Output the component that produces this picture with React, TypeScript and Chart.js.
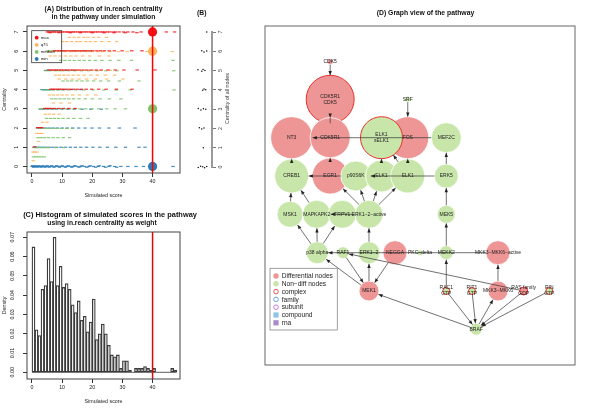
import React, { useEffect, useRef } from 'react';
import { Chart, registerables } from 'chart.js';

Chart.register(...registerables);

const FONT_FAMILY = '"Liberation Sans", Arial, Helvetica, sans-serif';

// ---------------- Panel A data ----------------
const statNames = ['max', 'q75', 'median', 'min'];
const statColors = ['#F0141A', '#FDB45C', '#7CC46A', '#2C7BB6'];
const observedScore = 40;
const observedStatLevels = [7, 6, 3, 0];
const centralityTicks = [0, 1, 2, 3, 4, 5, 6, 7];
const scoreTicks = [0, 10, 20, 30, 40];

const scoreRowLevels = [
  7.0, 6.96, 6.72, 6.5, 6.02, 5.98, 6.0, 6.0, 5.75, 5.52,
  5.0, 5.02, 4.98, 5.0, 4.75, 4.55, 4.45, 4.02, 4.0, 3.98,
  3.72, 3.52, 3.3, 3.0, 3.02, 2.98, 2.72, 2.5, 2.3, 2.0,
  2.02, 1.98, 1.72, 1.5, 1.3, 1.0, 0.98, 1.02, 0.75, 0.5,
  0.3, 0.0, 0.04, -0.04,
];
const scoreRowStats = [
  0, 0, 1, 1, 0, 1, 2, 3, 1, 2,
  3, 0, 2, 1, 1, 1, 2, 0, 3, 2,
  1, 2, 1, 2, 0, 3, 1, 2, 1, 3,
  0, 2, 1, 2, 1, 3, 2, 0, 1, 2,
  1, 3, 3, 3,
];
const scoreRowValues: number[][] = [
  [5.1, 5.6, 6.3, 7.0, 7.4, 8.2, 8.8, 9.5, 10.1, 10.9, 11.6, 12.2, 13.0, 13.7, 14.3, 15.2, 15.9, 16.5, 17.4, 18.0, 18.9, 19.6, 20.3, 21.1, 21.8, 22.6, 23.4, 24.1, 25.0, 25.8, 26.9, 27.7, 28.9, 30.4, 31.8, 33.5, 36.2, 39.0, 44.6, 47.3],
  [6.0, 9.0, 12.7, 16.1, 20.0, 23.9, 27.2, 30.9, 34.8],
  [12.4, 13.9, 15.5, 17.2, 18.6, 20.4, 22.1, 24.7],
  [10.2, 11.5, 13.1, 14.8, 16.0, 17.9, 19.3, 21.0, 23.2, 25.6, 28.1],
  [7.5, 8.3, 9.0, 9.9, 10.6, 11.4, 12.3, 13.1, 14.0, 14.7, 15.8, 16.6, 17.5, 18.3, 19.4, 20.2, 21.5, 22.7, 24.0, 25.6, 27.3, 29.9, 33.1, 36.5],
  [5.4, 6.2, 8.8, 11.0, 12.7, 14.4, 16.2, 18.0, 19.9, 21.8, 23.5, 25.9, 28.7, 31.6, 38.2, 46.5],
  [5.0, 5.8, 6.6, 7.2, 9.4, 10.8, 13.5, 15.3, 17.1, 19.0],
  [5.3, 6.9],
  [6.1, 7.6, 9.3, 11.1, 12.9, 14.6, 16.8, 19.2, 22.4, 25.5],
  [9.5, 10.9, 12.4, 14.0, 15.7, 17.3, 19.1, 21.0, 23.2, 25.9, 28.8, 33.0, 46.8],
  [4.5, 5.2, 5.9, 6.8, 8.0, 9.6, 11.5, 13.9],
  [5.5, 6.4, 7.3, 8.1, 8.9, 9.8, 10.7, 11.6, 12.6, 13.5, 14.6, 15.7, 16.9, 18.2, 19.6, 21.3, 23.0, 25.2, 27.6, 30.5, 34.9, 40.8],
  [4.8, 6.0, 7.7, 9.2, 10.4, 12.1, 14.2, 16.4, 18.8, 21.6, 24.5, 28.2, 47.0],
  [7.0, 10.0, 13.0, 15.2, 17.6, 20.1, 22.5, 26.0],
  [7.8, 9.1, 10.6, 12.0, 13.7, 15.4, 17.3, 19.5, 21.7, 24.3, 27.4],
  [9.0, 11.2, 13.4, 15.6, 18.1, 21.0, 24.8, 30.2],
  [10.3, 11.8, 13.2, 14.9, 16.6, 18.4, 20.5, 22.8, 25.4, 29.0, 35.5],
  [6.2, 6.9, 7.6, 8.4, 9.1, 9.9, 10.8, 11.7, 12.8, 13.9, 15.1, 16.4, 18.0, 19.8, 22.1, 24.6, 28.0, 33.2],
  [3.3, 4.0, 4.6, 5.3, 6.0, 7.2, 8.8, 10.5, 13.0, 16.2],
  [3.8, 4.9, 5.7, 7.0, 8.6, 10.2, 12.0, 14.5, 17.2, 20.3, 23.8, 27.9, 32.6, 47.1],
  [5.8, 7.1, 8.5, 10.0, 11.6, 13.5, 15.7, 18.3, 21.2],
  [6.6, 7.9, 9.3, 10.7, 12.2, 13.8, 15.6, 17.7, 20.0, 22.6, 25.7, 29.5],
  [7.1, 9.6, 12.4],
  [2.6, 3.3, 4.1, 5.0, 6.0, 7.1, 8.3, 9.6, 11.0, 12.5, 14.1, 15.9, 17.8, 19.9, 22.2, 24.8, 27.6, 31.0],
  [4.2, 4.9, 5.6, 6.4, 7.5, 8.9, 10.4, 12.2, 14.3],
  [2.9, 3.8, 5.2, 6.7, 8.1, 9.9, 11.9, 14.0, 16.6, 19.5, 23.0],
  [4.5, 5.8, 7.2, 9.0],
  [4.8, 6.1, 7.4, 8.8, 10.3, 12.0, 13.9, 16.1, 18.6],
  [3.5, 5.0],
  [1.8, 2.5, 3.4, 4.5, 5.7, 7.0, 8.4, 10.0, 11.7, 13.5, 15.5, 17.6, 19.9, 22.4, 25.5, 29.0, 34.2],
  [1.9, 2.6, 3.2],
  [2.3, 3.7, 5.1, 6.5, 8.0, 9.7, 11.5, 13.4],
  [1.6, 2.4, 3.3],
  [2.0, 3.0, 4.2, 5.5, 7.0, 8.6, 10.4, 12.5],
  [2.2],
  [0.6, 1.2, 1.9, 2.7, 3.6, 4.6, 5.7, 6.9, 8.2, 9.6, 11.1, 12.7, 14.4, 16.2, 18.1, 20.2, 22.5, 25.0, 27.8, 31.0, 35.5, 37.5],
  [0.8, 1.5, 2.3, 3.2, 4.3, 5.5, 7.8, 10.4],
  [0.9],
  [0.3, 1.0, 1.7],
  [0.5, 1.3, 2.2, 3.1, 4.1],
  [0.4],
  [0.0, 0.4, 0.9, 1.4, 2.0, 2.6, 3.2, 3.9, 4.6, 5.3, 6.1, 6.9, 7.8, 8.7, 9.6, 10.6, 11.6, 12.7, 13.8, 15.0, 16.2, 17.5, 18.9, 20.4, 22.0, 23.7, 25.5, 27.4, 29.5, 31.8, 34.5, 37.0, 39.0, 46.8],
  [0.2, 1.1, 2.3, 3.6, 5.0, 6.5, 8.2, 10.0, 12.0, 14.2, 16.6, 19.3, 22.3, 25.9],
  [0.6, 1.7, 3.0, 4.3, 5.7, 7.3, 9.1, 11.1, 13.2, 15.6, 18.2, 21.1, 24.4, 28.1],
];

// ---------------- Panel B data ----------------
const nodeCentralities = [7, 6, 6, 6, 5, 5, 5, 5, 4, 4, 4, 3, 3, 3, 3, 2, 2, 2, 1, 0, 0, 0, 0, 0];
const nodeJitterX = [0.67, 0.36, 0.5, 0.67, 0.12, 0.36, 0.44, 0.56, 0.42, 0.5, 0.61, 0.14, 0.31, 0.46, 0.61, 0.21, 0.36, 0.5, 0.46, 0.14, 0.29, 0.42, 0.54, 0.67];
const nodeJitterY = [0, 0.03, -0.04, 0.02, 0.04, -0.03, 0.05, 0.0, -0.02, 0.04, 0.01, 0.03, -0.05, 0.02, -0.01, 0.04, -0.03, 0.02, 0.0, -0.03, 0.04, 0.01, -0.04, 0.02];

// ---------------- Panel C data ----------------
const histBinStart = 0;
const histBinWidth = 1;
const histDensity = [
  0.065, 0.022, 0.019, 0.043, 0.045, 0.059, 0.047, 0.070, 0.045, 0.055,
  0.044, 0.046, 0.043, 0.035, 0.031, 0.037, 0.027, 0.029, 0.021, 0.026,
  0.038, 0.017, 0.020, 0.025, 0.020, 0.014, 0.009, 0.008, 0.009, 0.002,
  0.006, 0.006, 0.001, 0.0, 0.002, 0.002, 0.002, 0.003, 0.002, 0.001,
  0.002, 0.0, 0.0, 0.0, 0.0, 0.0, 0.002, 0.001,
];
const densityTicks = [0, 0.01, 0.02, 0.03, 0.04, 0.05, 0.06, 0.07];

// ---------------- Panel D data ----------------
const pathwayNodes = [
  'CDK5', 'CDK5R1\nCDK5', 'SRF', 'NT3', 'FOS', 'CDK5R1', 'ELK1\nsELK1', 'MEF2C',
  'CREB1', 'EGR1', 'p90S6K', 'ELK1', 'ELK1', 'ERK5',
  'MSK1', 'MAPKAPK2', 'TRPV1', 'ERK1\u22122\u2212active', 'MEK5',
  'p38 alpha', 'RAF1', 'ERK1\u22122', 'NEGGA', 'PKC\u2212delta', 'MEKK2', 'MKK3\u2212MKK6\u2212active',
  'MEK1', 'RAC1\nGTP', 'RIT1\nGTP', 'MKK3\u2212MKK6', 'RAS family\nGDP', 'RIN\nGTP', 'BRAF',
];
const nodeX = [67.7, 67.7, 148.3, 27.7, 148.3, 67.7, 121, 188.3, 27.7, 67.7, 94.3, 121, 148.3, 188.3, 26, 53.7, 80.3, 108, 188.3, 54.3, 81, 108, 135, 161, 188.3, 242, 108, 188.3, 215, 242, 268.7, 295.3, 219.3];
const nodeY = [35.7, 73.3, 73.3, 111.7, 111.7, 111.7, 111.7, 111.7, 150, 150, 150, 150, 150, 150, 188.3, 188.3, 188.3, 188.3, 188.3, 226.7, 226.7, 226.7, 226.7, 226.7, 226.7, 226.7, 265, 265, 265, 265, 265, 265, 303.3];
const nodeSize = [3, 24, 3, 21, 21, 20, 21, 15, 17, 18, 15, 16, 17, 12, 13, 14, 14, 14, 9, 11, 6, 11, 12, 3, 7, 12, 10, 3.5, 3.5, 10, 4, 3.5, 6];
const nodeIsDiff = [1, 1, 0, 1, 1, 1, 0, 0, 0, 1, 0, 0, 0, 0, 0, 0, 0, 0, 0, 0, 0, 0, 1, 0, 0, 1, 1, 0, 0, 1, 1, 0, 0];
const nodeIsComplex = [0, 1, 0, 0, 0, 0, 1, 0, 0, 0, 0, 0, 0, 0, 0, 0, 0, 0, 0, 0, 0, 0, 0, 0, 0, 0, 0, 1, 1, 0, 1, 1, 0];
const edgeFrom = [0, 1, 2, 7, 8, 9, 11, 12, 12, 13, 10, 14, 15, 17, 17, 17, 17, 17, 19, 19, 19, 21, 25, 30, 26, 20, 26, 22, 32, 27, 24, 18, 13, 29, 27, 28, 32, 30, 31];
const edgeTo =   [1, 5, 4, 3, 3, 5, 6, 4, 6, 10, 8, 8, 8, 10, 9, 11, 12, 15, 14, 15, 16, 17, 19, 20, 19, 26, 21, 26, 26, 24, 18, 13, 7, 25, 32, 32, 29, 32, 32];
const legendLabels = ['Differential nodes', 'Non\u2212diff nodes', 'complex', 'family', 'subunit', 'compound', 'rna'];

// ---------------- helpers ----------------
const DIFF_FILL = '#EE9595';
const NONDIFF_FILL = '#C8E6A9';
const COMPLEX_BORDER = '#E8322C';

function txt(ctx: CanvasRenderingContext2D, s: string, x: number, y: number, size: number, o: any = {}) {
  ctx.save();
  ctx.font = `${o.bold ? 'bold ' : ''}${size}px ${FONT_FAMILY}`;
  ctx.fillStyle = o.color || '#111';
  ctx.textAlign = o.align || 'center';
  ctx.textBaseline = 'middle';
  ctx.translate(x, y);
  if (o.rotate) ctx.rotate(o.rotate);
  ctx.fillText(s, 0, 0);
  ctx.restore();
}

const scaleFont = { family: FONT_FAMILY, size: 5.3 };

function rAxis(kind: 'x' | 'y', min: number, max: number, tickVals: number[], fit: number, title: string, extra: any = {}) {
  return {
    type: 'linear',
    min,
    max,
    offset: false,
    afterBuildTicks: (s: any) => { s.ticks = tickVals.map((v) => ({ value: v })); },
    afterFit: (s: any) => { if (kind === 'x') s.height = fit; else s.width = fit; },
    ticks: {
      font: scaleFont, color: '#222', autoSkip: false,
      padding: kind === 'x' ? 1.5 : 5,
      ...(kind === 'y' ? { minRotation: 90, maxRotation: 90, crossAlign: 'center' } : { maxRotation: 0 }),
      ...(extra.ticks || {}),
    },
    grid: { drawOnChartArea: false, tickLength: 4, color: '#333', offset: false },
    border: { display: false },
    title: {
      display: true, text: title, font: scaleFont, color: '#222',
      padding: kind === 'x' ? { top: 0, bottom: 6.5 } : { top: 1, bottom: 0 },
    },
  };
}

function ChartCanvas({ left, top, width, height, build }: any) {
  const ref = useRef<HTMLCanvasElement>(null);
  useEffect(() => {
    const chart = new Chart(ref.current as HTMLCanvasElement, build());
    return () => chart.destroy();
  }, []);
  return (
    <canvas ref={ref} width={width} height={height}
      style={{ position: 'absolute', left, top, width, height }} />
  );
}

// ---------------- Panel A ----------------
function buildA(): any {
  const small = statNames.map((name, s) => {
    const pts: any[] = [];
    scoreRowValues.forEach((vals, r) => {
      if (scoreRowStats[r] === s) vals.forEach((v) => pts.push({ x: v, y: scoreRowLevels[r] }));
    });
    return {
      label: name, data: pts, pointStyle: 'line', pointRadius: 1.7,
      pointBorderColor: statColors[s] + 'DD', pointBorderWidth: 1.2,
      pointBackgroundColor: statColors[s], clip: 4,
    };
  });
  const big = {
    label: 'observed', data: observedStatLevels.map((y) => ({ x: observedScore, y })),
    pointRadius: 4.6, pointBackgroundColor: statColors, pointBorderWidth: 0, pointStyle: 'circle', clip: 8,
  };
  const plugin = {
    id: 'panelA',
    afterDatasetsDraw(chart: any) {
      const { ctx, chartArea: a, scales } = chart;
      const px = scales.x.getPixelForValue(observedScore);
      ctx.save();
      ctx.strokeStyle = '#FF0000'; ctx.lineWidth = 1.5;
      ctx.beginPath(); ctx.moveTo(px, a.top); ctx.lineTo(px, a.bottom); ctx.stroke();
      ctx.strokeStyle = '#444'; ctx.lineWidth = 1;
      ctx.strokeRect(a.left, a.top, a.right - a.left, a.bottom - a.top);
      // legend
      ctx.strokeStyle = '#333'; ctx.lineWidth = 0.8;
      ctx.strokeRect(a.left + 4.7, a.top + 4.7, 30, 32);
      statNames.forEach((n, i) => {
        const y = a.top + 11.7 + i * 7.1;
        ctx.fillStyle = statColors[i];
        ctx.beginPath(); ctx.arc(a.left + 9.7, y, 1.9, 0, Math.PI * 2); ctx.fill();
        txt(ctx, n, a.left + 13.7, y, 4.3, { align: 'left', color: '#222' });
      });
      ctx.restore();
      const cx = (a.left + a.right) / 2;
      txt(ctx, '(A) Distribution of in.reach centrality', cx, 9, 6.8, { bold: true });
      txt(ctx, 'in the pathway under simulation', cx, 16.7, 6.8, { bold: true });
    },
  };
  return {
    type: 'scatter',
    data: { datasets: [big, ...small] },
    options: {
      responsive: false, animation: false, events: [],
      layout: { padding: { left: 0, top: 26, right: 20, bottom: 0 } },
      plugins: { legend: { display: false }, tooltip: { enabled: false } },
      scales: {
        x: rAxis('x', -1.65, 49.1, scoreTicks, 32, 'Simulated score'),
        y: rAxis('y', -0.34, 7.31, centralityTicks, 27, 'Centrality'),
      },
    },
    plugins: [plugin],
  };
}

// ---------------- Panel B ----------------
function buildB(): any {
  const plugin = {
    id: 'panelB',
    afterDraw(chart: any) {
      const { ctx, chartArea: a } = chart;
      txt(ctx, '(B)', 11.7, 13.3, 6.8, { bold: true });
      txt(ctx, 'Centrality of all nodes', 38, (a.top + a.bottom) / 2 - 1, 5.3, { rotate: -Math.PI / 2, color: '#333' });
    },
  };
  return {
    type: 'scatter',
    data: {
      datasets: [{
        label: 'nodes',
        data: nodeCentralities.map((c, i) => ({ x: nodeJitterX[i], y: c + nodeJitterY[i] })),
        pointRadius: 0.75, pointBackgroundColor: '#111', pointBorderWidth: 0, clip: false,
      }],
    },
    options: {
      responsive: false, animation: false, events: [],
      layout: { padding: { left: 6, top: 32, right: 0, bottom: 38 } },
      plugins: { legend: { display: false }, tooltip: { enabled: false } },
      scales: {
        x: { type: 'linear', min: 0, max: 1, display: false },
        y: {
          type: 'linear', position: 'right', min: 0, max: 7,
          afterBuildTicks: (s: any) => { s.ticks = centralityTicks.map((v) => ({ value: v })); },
          afterFit: (s: any) => { s.width = 28; },
          ticks: { font: scaleFont, color: '#444', padding: 3, autoSkip: false, minRotation: 90, maxRotation: 90, crossAlign: 'center' },
          grid: { drawOnChartArea: false, tickLength: 4, color: '#777' },
          border: { display: true, color: '#9A9A9A', width: 2 },
        },
      },
    },
    plugins: [plugin],
  };
}

// ---------------- Panel C ----------------
function buildC(): any {
  const plugin = {
    id: 'panelC',
    afterDatasetsDraw(chart: any) {
      const { ctx, chartArea: a, scales } = chart;
      const px = scales.x.getPixelForValue(observedScore);
      ctx.save();
      ctx.strokeStyle = '#E8000B'; ctx.lineWidth = 1.5;
      ctx.beginPath(); ctx.moveTo(px, a.top); ctx.lineTo(px, a.bottom); ctx.stroke();
      ctx.strokeStyle = '#444'; ctx.lineWidth = 1;
      ctx.strokeRect(a.left, a.top, a.right - a.left, a.bottom - a.top);
      ctx.restore();
      txt(ctx, '(C) Histogram of simulated scores in the pathway', 110, 10, 7.4, { bold: true });
      txt(ctx, 'using in.reach centrality as weight', 102, 17.7, 6.7, { bold: true });
    },
  };
  const nBins = histDensity.length;
  return {
    type: 'bar',
    data: {
      datasets: [
        {
          type: 'line', label: 'base',
          data: [{ x: histBinStart, y: 0 }, { x: histBinStart + nBins * histBinWidth, y: 0 }],
          borderColor: '#333', borderWidth: 0.8, pointRadius: 0,
        },
        {
          type: 'bar', label: 'density',
          data: histDensity.map((d, i) => ({ x: histBinStart + (i + 0.5) * histBinWidth, y: d })),
          backgroundColor: 'rgba(255,255,255,0)', borderColor: '#3A3A3A', borderWidth: 0.6,
          borderSkipped: false, barPercentage: 1, categoryPercentage: 1,
        },
      ],
    },
    options: {
      responsive: false, animation: false, events: [],
      layout: { padding: { left: 0, top: 27, right: 20, bottom: 0 } },
      plugins: { legend: { display: false }, tooltip: { enabled: false } },
      scales: {
        x: rAxis('x', -1.65, 49.1, scoreTicks, 32, 'Simulated score'),
        y: rAxis('y', -0.00347, 0.07275, densityTicks, 27, 'Density', {
          ticks: { callback: (v: any) => Number(v).toFixed(2) },
        }),
      },
    },
    plugins: [plugin],
  };
}

// ---------------- Panel D ----------------
function buildD(): any {
  const plugin = {
    id: 'panelD',
    afterDatasetsDraw(chart: any) {
      const { ctx, chartArea: a, scales } = chart;
      const P = (i: number) => ({ x: scales.x.getPixelForValue(nodeX[i]), y: scales.y.getPixelForValue(nodeY[i]) });
      ctx.save();
      // edges
      ctx.strokeStyle = '#333'; ctx.fillStyle = '#222'; ctx.lineWidth = 0.7;
      edgeFrom.forEach((f, k) => {
        const t = edgeTo[k];
        const p1 = P(f), p2 = P(t);
        const dx = p2.x - p1.x, dy = p2.y - p1.y;
        const len = Math.hypot(dx, dy) || 1;
        const ux = dx / len, uy = dy / len;
        const sx = p1.x + ux * nodeSize[f], sy = p1.y + uy * nodeSize[f];
        const ex = p2.x - ux * nodeSize[t], ey = p2.y - uy * nodeSize[t];
        ctx.beginPath(); ctx.moveTo(sx, sy); ctx.lineTo(ex, ey); ctx.stroke();
        const L = 4.2, W = 1.7;
        ctx.beginPath();
        ctx.moveTo(ex, ey);
        ctx.lineTo(ex - ux * L - uy * W, ey - uy * L + ux * W);
        ctx.lineTo(ex - ux * L + uy * W, ey - uy * L - ux * W);
        ctx.closePath(); ctx.fill();
      });
      // labels
      pathwayNodes.forEach((name, i) => {
        const p = P(i);
        const lines = name.split('\n');
        lines.forEach((ln, j) => {
          txt(ctx, ln, p.x, p.y + (j - (lines.length - 1) / 2) * 6, 5, { color: '#222' });
        });
      });
      // frame
      ctx.strokeStyle = '#666'; ctx.lineWidth = 1;
      ctx.strokeRect(a.left, a.top, a.right - a.left, a.bottom - a.top);
      // legend
      const lx = 30, ly = 268.3;
      ctx.strokeStyle = '#888'; ctx.lineWidth = 0.8;
      ctx.strokeRect(lx, ly, 67.3, 61.7);
      legendLabels.forEach((lab, i) => {
        const y = ly + 7.7 + i * 7.8;
        const x = lx + 6;
        ctx.lineWidth = 0.8;
        if (i === 0 || i === 1) {
          ctx.fillStyle = i === 0 ? DIFF_FILL : NONDIFF_FILL;
          ctx.beginPath(); ctx.arc(x, y, 2.7, 0, Math.PI * 2); ctx.fill();
        } else if (i <= 4) {
          ctx.strokeStyle = ['#E8322C', '#4A90D9', '#B45CD6'][i - 2];
          ctx.beginPath(); ctx.arc(x, y, 2.3, 0, Math.PI * 2); ctx.stroke();
        } else {
          ctx.fillStyle = i === 5 ? '#8EC3E6' : '#A98BC9';
          ctx.fillRect(x - 2.6, y - 2.6, 5.2, 5.2);
        }
        txt(ctx, lab, lx + 11.7, y + 0.3, 6.6, { align: 'left', color: '#222' });
      });
      ctx.restore();
      txt(ctx, '(D) Graph view of the pathway', 185.5, 13.3, 6.8, { bold: true });
    },
  };
  return {
    type: 'bubble',
    data: {
      datasets: [{
        label: 'nodes',
        data: pathwayNodes.map((_, i) => ({ x: nodeX[i], y: nodeY[i], r: nodeSize[i] })),
        backgroundColor: pathwayNodes.map((_, i) => (nodeIsDiff[i] ? DIFF_FILL : NONDIFF_FILL)),
        borderColor: pathwayNodes.map((_, i) => (nodeIsComplex[i] ? COMPLEX_BORDER : '#FFFFFF')),
        borderWidth: pathwayNodes.map((_, i) => (nodeIsComplex[i] ? 1 : 0.8)),
        clip: false,
      }],
    },
    options: {
      responsive: false, animation: false, events: [],
      layout: { padding: { left: 24, top: 26, right: 14, bottom: 46 } },
      plugins: { legend: { display: false }, tooltip: { enabled: false } },
      scales: {
        x: { type: 'linear', min: 0, max: 322, display: false },
        y: { type: 'linear', min: 0, max: 339, reverse: true, display: false },
      },
    },
    plugins: [plugin],
  };
}

export default function App() {
  return (
    <div style={{ position: 'fixed', left: 0, top: 0, width: 600, height: 411, background: '#fff', overflow: 'hidden' }}>
      <ChartCanvas left={0} top={0} width={200} height={205} build={buildA} />
      <ChartCanvas left={190} top={0} width={50} height={205} build={buildB} />
      <ChartCanvas left={0} top={205} width={200} height={206} build={buildC} />
      <ChartCanvas left={240} top={0} width={360} height={411} build={buildD} />
    </div>
  );
}
